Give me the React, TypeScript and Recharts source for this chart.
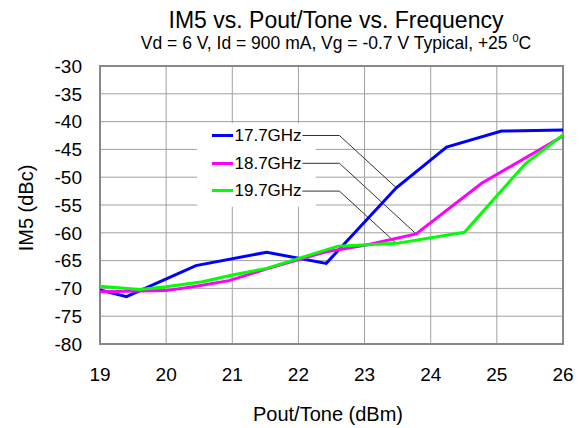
import React from "react";
import {
  CartesianGrid,
  Legend,
  Line,
  LineChart,
  ReferenceArea,
  ReferenceLine,
  XAxis,
  YAxis,
} from "recharts";

// Pout/Tone (dBm) vs IM5 (dBc)
const blue177 = [
  { x: 19.0, y: -70.3 },
  { x: 19.4, y: -71.5 },
  { x: 20.45, y: -65.9 },
  { x: 21.52, y: -63.5 },
  { x: 22.42, y: -65.5 },
  { x: 23.48, y: -51.9 },
  { x: 24.24, y: -44.6 },
  { x: 25.07, y: -41.7 },
  { x: 26.0, y: -41.5 },
];

const magenta187 = [
  { x: 19.0, y: -70.6 },
  { x: 20.0, y: -70.4 },
  { x: 20.45, y: -69.6 },
  { x: 20.95, y: -68.6 },
  { x: 21.52, y: -66.5 },
  { x: 22.42, y: -63.4 },
  { x: 23.03, y: -62.2 },
  { x: 23.78, y: -60.2 },
  { x: 24.77, y: -51.1 },
  { x: 26.0, y: -42.6 },
];

const green197 = [
  { x: 19.0, y: -69.6 },
  { x: 19.6, y: -70.2 },
  { x: 20.0, y: -69.7 },
  { x: 20.55, y: -68.8 },
  { x: 21.0, y: -67.6 },
  { x: 21.52, y: -66.4 },
  { x: 22.6, y: -62.4 },
  { x: 23.48, y: -61.9 },
  { x: 24.51, y: -59.9 },
  { x: 25.43, y: -47.6 },
  { x: 26.0, y: -42.4 },
];

const xTicks = [19, 20, 21, 22, 23, 24, 25, 26];
const yTicks = [-30, -35, -40, -45, -50, -55, -60, -65, -70, -75, -80];

const series = [
  { name: "17.7GHz", color: "#0000ff", data: blue177, tip: { x: 23.48, y: -51.9 }, row: -42.5 },
  { name: "18.7GHz", color: "#ff00ff", data: magenta187, tip: { x: 23.78, y: -60.2 }, row: -47.5 },
  { name: "19.7GHz", color: "#00ff00", data: green197, tip: { x: 23.48, y: -61.9 }, row: -52.5 },
];

const FONT = '"Liberation Sans", Arial, sans-serif';

const LegendBox = () => (
  <div style={{ fontFamily: FONT }}>
    {series.map((s) => (
      <div
        key={s.name}
        style={{ display: "flex", alignItems: "center", height: 27.6 }}
      >
        <div style={{ width: 21, height: 3, background: s.color }} />
        <span style={{ fontSize: 17, lineHeight: "17px", marginLeft: 1.5, color: "#000" }}>
          {s.name}
        </span>
      </div>
    ))}
  </div>
);

export default function App() {
  return (
    <div style={{ position: "absolute", left: 0, top: 0, width: 584, height: 428, background: "#fff" }}>
      <LineChart
        width={584}
        height={428}
        margin={{ top: 66, right: 21, bottom: 44, left: 40 }}
      >
        <CartesianGrid stroke="#a0a0a0" strokeWidth={1} />
        <XAxis
          type="number"
          dataKey="x"
          domain={[19, 26]}
          ticks={xTicks}
          allowDataOverflow
          height={40}
          tickLine={false}
          axisLine={false}
          tickSize={6}
          tickMargin={18}
          tick={{ fill: "#000", fontSize: 19, fontFamily: FONT }}
        />
        <YAxis
          type="number"
          dataKey="y"
          domain={[-80, -30]}
          ticks={yTicks}
          allowDataOverflow
          width={60}
          tickLine={false}
          axisLine={false}
          tickSize={6}
          tickMargin={12}
          tick={{ fill: "#000", fontSize: 19, fontFamily: FONT }}
        />
        {/* 枠線 */}
        <ReferenceArea x1={19} x2={26} y1={-80} y2={-30} fill="none" stroke="#888" strokeWidth={2} />
        {/* 凡例の白い背景 */}
        <ReferenceArea x1={20.47} x2={22.26} y1={-55.3} y2={-40.3} fill="#fff" fillOpacity={1} stroke="none" />
        {series.map((s) => (
          <ReferenceLine
            key={s.name + "-h"}
            segment={[{ x: 22.06, y: s.row }, { x: 22.62, y: s.row }]}
            stroke="#333"
            strokeWidth={1}
          />
        ))}
        {series.map((s) => (
          <ReferenceLine
            key={s.name + "-d"}
            segment={[{ x: 22.62, y: s.row }, s.tip]}
            stroke="#333"
            strokeWidth={1}
          />
        ))}
        {series.map((s) => (
          <Line
            key={s.name}
            data={s.data}
            dataKey="y"
            name={s.name}
            type="linear"
            stroke={s.color}
            strokeWidth={3}
            dot={false}
            isAnimationActive={false}
          />
        ))}
        <Legend
          layout="vertical"
          align="center"
          verticalAlign="middle"
          content={<LegendBox />}
          wrapperStyle={{ left: 212, top: 122, width: "auto" }}
        />
      </LineChart>
      <svg
        width={584}
        height={428}
        style={{ position: "absolute", left: 0, top: 0, pointerEvents: "none" }}
        fontFamily={FONT}
      >
        <text x={336} y={28} textAnchor="middle" fontSize={23} fill="#000">
          IM5 vs. Pout/Tone vs. Frequency
        </text>
        <text x={336} y={49} textAnchor="middle" fontSize={17.5} fill="#000">
          Vd = 6 V, Id = 900 mA, Vg = -0.7 V Typical, +25{" "}
          <tspan fontSize={11} dy={-7}>0</tspan>
          <tspan dy={7}>C</tspan>
        </text>
        <text x={328} y={421} textAnchor="middle" fontSize={20} fill="#000">
          Pout/Tone (dBm)
        </text>
        <text
          x={32.7}
          y={208}
          textAnchor="middle"
          fontSize={20}
          fill="#000"
          transform="rotate(-90 32.7 208)"
        >
          IM5 (dBc)
        </text>
      </svg>
    </div>
  );
}
